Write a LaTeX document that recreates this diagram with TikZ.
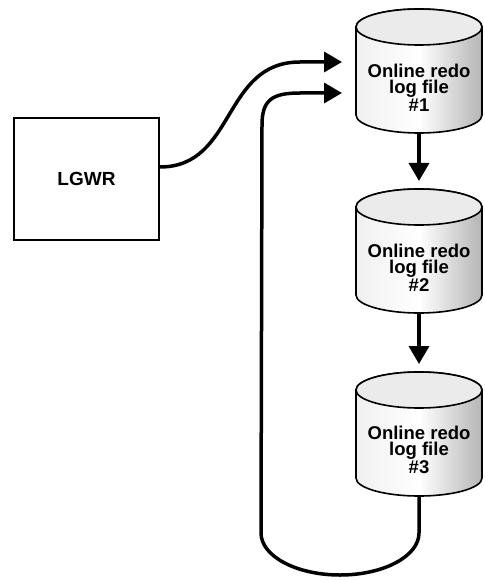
\documentclass[tikz,border=0pt]{standalone}
\usepackage{fontspec}
\setmainfont{Liberation Sans}
\usetikzlibrary{arrows.meta}

\tikzset{
  logfile/.pic={
    \coordinate (-north) at (0,-62);
    \coordinate (-south) at (0,62);
    \coordinate (-west) at (-63,0);
    \shade[left color=gray!12, right color=gray!58, middle color=white, draw, line width=1.6pt]
      (-63,-44) -- (-63,44) arc[start angle=180, end angle=0, x radius=63, y radius=18]
      -- (63,-44) arc[start angle=360, end angle=180, x radius=63, y radius=18] -- cycle;
    \filldraw[fill=gray!16, line width=1.6pt] (0,-44) ellipse [x radius=63, y radius=18];
  },
  loglabel/.style={font=\bfseries\fontsize{18.5}{16}\selectfont, align=center, inner sep=0pt},
  procbox/.style={draw, line width=1.6pt, minimum width=145pt, minimum height=122pt, inner sep=0pt,
    font=\bfseries\fontsize{19}{19}\selectfont},
  flow/.style={line width=3.5pt, -{Triangle[length=18pt,width=20pt]}},
}

\begin{document}
\begin{tikzpicture}[x=1pt,y=-1pt]
  \useasboundingbox (0,0) rectangle (484,580);

  \node[procbox] (lgwr) at (86.5,179) {LGWR};
  \pic (file1) at (419,71) {logfile};
  \pic (file2) at (419,251) {logfile};
  \pic (file3) at (419,434) {logfile};
  \node[loglabel] (name1) at (419,88) {Online redo\\log file\\\#1};
  \node[loglabel] (name2) at (419,268) {Online redo\\log file\\\#2};
  \node[loglabel] (name3) at (419,450) {Online redo\\log file\\\#3};

  \coordinate (in1) at ([xshift=-14pt,yshift=9pt]file1-west);
  \coordinate (in2) at ([xshift=-14pt,yshift=-22pt]file1-west);

  \draw[flow, shorten >=8pt] (file1-south) -- (file2-north);
  \draw[flow, shorten >=8pt] (file2-south) -- (file3-north);
  \draw[flow] ([yshift=12pt]lgwr.east) .. controls (236,167) and (222,62) .. (300,62) -- (in1);
  \draw[flow] (file3-south) -- ++(0,37) arc[start angle=0, end angle=180, x radius=79, y radius=42]
    -- (262,125) .. controls (262,100) and (272,93) .. (300,93) -- (in2);
\end{tikzpicture}
\end{document}
